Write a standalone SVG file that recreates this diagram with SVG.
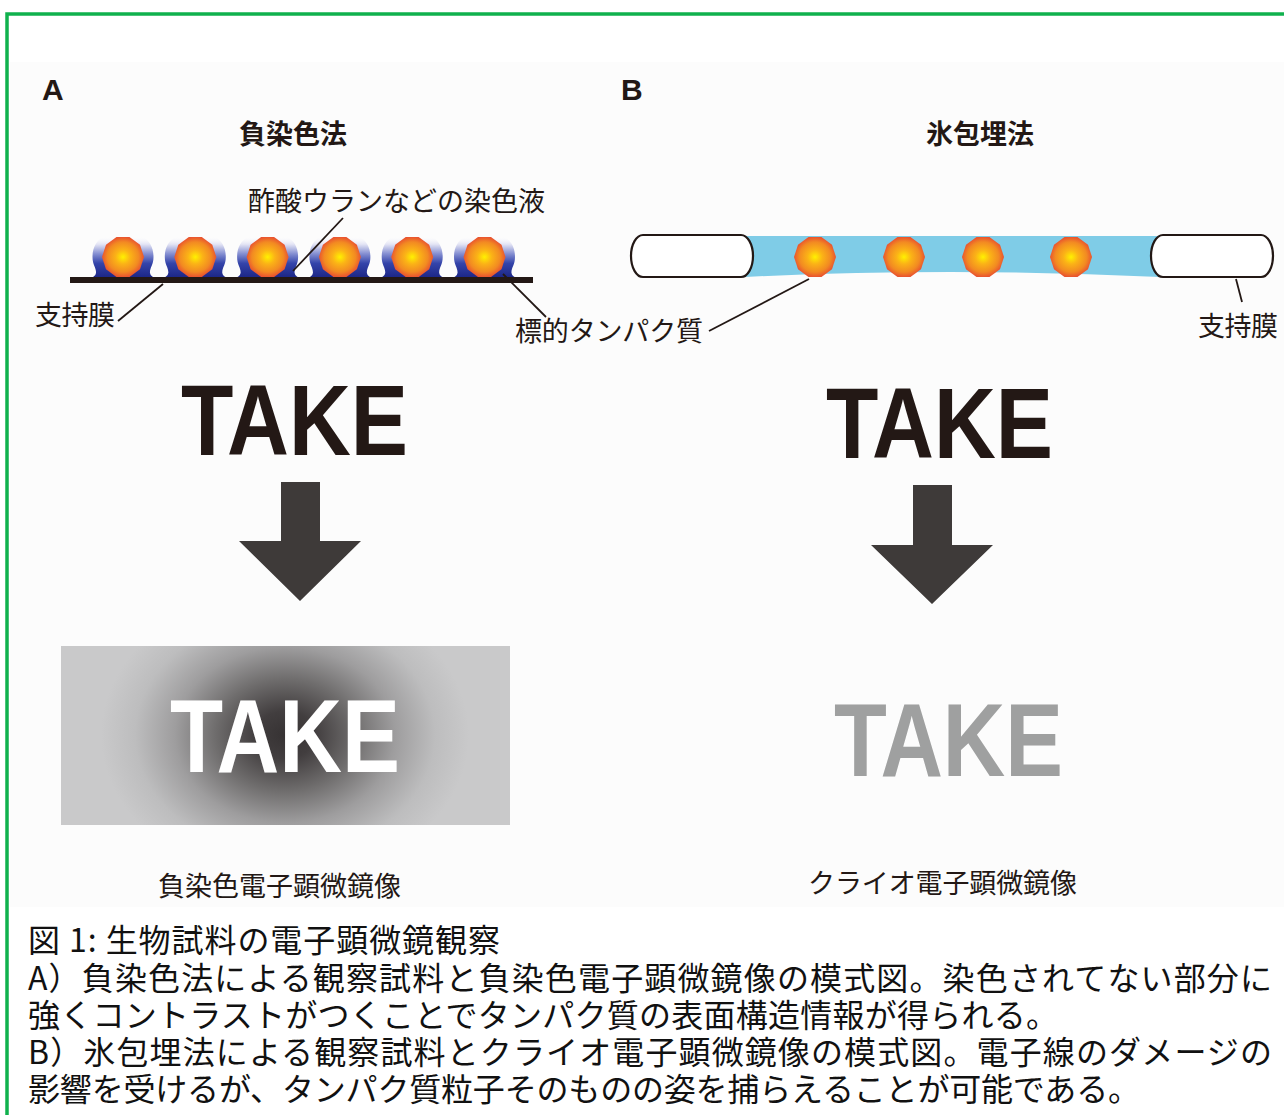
<svg xmlns="http://www.w3.org/2000/svg" xmlns:xlink="http://www.w3.org/1999/xlink" width="1284" height="1115" viewBox="0 0 1284 1115">
  <defs>
    <style>
      .jp { font-family: "Noto Sans CJK JP", "Noto Sans CJK SC", sans-serif; fill: #231815; }
      .lbl { font-size: 27px; font-weight: 400; }
      .ttl { font-size: 27px; font-weight: 700; }
      .cap { font-size: 32px; font-weight: 400; fill: #111; }
      .panel { font-family: "Liberation Sans", Arial, sans-serif; font-weight: 700; font-size: 30px; fill: #231815; }
      .take { font-family: "Liberation Sans", Arial, sans-serif; font-weight: 700; }
      .lead { stroke: #231815; stroke-width: 1.8; fill: none; }
      .arrow { fill: #3e3a39; }
      .grid { fill: #fff; stroke: #231815; stroke-width: 2.2; }
    </style>
    <!-- protein particle: yellow core fading to orange-red rim -->
    <radialGradient id="protein" cx="0.5" cy="0.5" r="0.5">
      <stop offset="0" stop-color="#fff100"/>
      <stop offset="0.35" stop-color="#fbb316"/>
      <stop offset="0.75" stop-color="#f28a22"/>
      <stop offset="1" stop-color="#e9542f"/>
    </radialGradient>
    <polygon id="particle" fill="url(#protein)" points="21,0 17,12.35 6.49,19.97 -6.49,19.97 -17,12.35 -21,0 -17,-12.35 -6.49,-19.97 6.49,-19.97 17,-12.35"/>
    <!-- uranyl acetate stain: dark navy at the film, fading upward -->
    <linearGradient id="stain" gradientUnits="userSpaceOnUse" x1="0" y1="236" x2="0" y2="278">
      <stop offset="0" stop-color="#ffffff" stop-opacity="0"/>
      <stop offset="0.2" stop-color="#e2e3f4"/>
      <stop offset="0.42" stop-color="#8690d2"/>
      <stop offset="0.65" stop-color="#3444aa"/>
      <stop offset="1" stop-color="#1b2585"/>
    </linearGradient>
    <!-- one stain mound around a particle centred at x=0 -->
    <path id="mound" fill="url(#stain)" d="M-36.2 278 Q-27.5 278 -27 273 C-26.5 268 -30.5 265 -30.5 257 C-30.5 248 -27 240 -18 236 L18 236 C27 240 30.5 248 30.5 257 C30.5 265 26.5 268 27 273 Q27.5 278 36.2 278 Z"/>
    <!-- blurred image contrast for negative stain -->
    <radialGradient id="haze" gradientUnits="userSpaceOnUse" cx="285" cy="735" r="200" gradientTransform="translate(285 735) scale(1 0.8) translate(-285 -735)">
      <stop offset="0" stop-color="#363233"/>
      <stop offset="0.15" stop-color="#423e3f"/>
      <stop offset="0.35" stop-color="#6f6d6d"/>
      <stop offset="0.55" stop-color="#9e9d9e"/>
      <stop offset="0.75" stop-color="#bdbdbe"/>
      <stop offset="0.92" stop-color="#c9c9ca"/>
    </radialGradient>
  </defs>

  <rect width="1284" height="1115" fill="#ffffff"/>
  <rect x="10" y="62" width="1274" height="845" fill="#fcfcfc"/>
  <!-- frame -->
  <path d="M7 1115 L7 14 L1284 14" fill="none" stroke="#10b14d" stroke-width="3.5"/>

  <!-- panel A: negative staining -->
  <g id="panelA">
    <text class="panel" x="42" y="100">A</text>
    <text class="jp ttl" x="293" y="144" text-anchor="middle">負染色法</text>
  </g>

  <g id="stainedSample">
    <use xlink:href="#mound" x="123" y="0"/>
    <use xlink:href="#mound" x="195.3" y="0"/>
    <use xlink:href="#mound" x="267.6" y="0"/>
    <use xlink:href="#mound" x="339.9" y="0"/>
    <use xlink:href="#mound" x="412.2" y="0"/>
    <use xlink:href="#mound" x="484.5" y="0"/>
    <use xlink:href="#particle" x="123" y="257"/>
    <use xlink:href="#particle" x="195.3" y="257"/>
    <use xlink:href="#particle" x="267.6" y="257"/>
    <use xlink:href="#particle" x="339.9" y="257"/>
    <use xlink:href="#particle" x="412.2" y="257"/>
    <use xlink:href="#particle" x="484.5" y="257"/>
    <!-- support film -->
    <rect x="70" y="277" width="463" height="6" fill="#231815"/>
  </g>

  <g id="labelsA">
    <text class="jp lbl" x="248" y="211" textLength="297">酢酸ウランなどの染色液</text>
    <text class="jp lbl" x="35" y="325" textLength="80">支持膜</text>
    <text class="jp lbl" x="515" y="341" textLength="188">標的タンパク質</text>
  </g>

  <!-- panel B: vitreous ice embedding -->
  <g id="panelB">
    <text class="panel" x="621" y="100">B</text>
    <text class="jp ttl" x="980" y="144" text-anchor="middle">氷包埋法</text>
  </g>

  <g id="iceSample">
    <path d="M745 236 L1160 236 L1160 277 Q950 267 745 277 Z" fill="#7fcce7"/>
    <rect class="grid" x="631" y="235" width="122" height="42" rx="12" ry="21"/>
    <rect class="grid" x="1151" y="235" width="122" height="42" rx="12" ry="21"/>
    <use xlink:href="#particle" x="815" y="257"/>
    <use xlink:href="#particle" x="904" y="257"/>
    <use xlink:href="#particle" x="983" y="257"/>
    <use xlink:href="#particle" x="1071" y="257"/>
  </g>

  <g id="labelsB">
    <text class="jp lbl" x="1198" y="336" textLength="80">支持膜</text>
  </g>

  <!-- leader lines -->
  <g id="connectors">
    <line class="lead" x1="343" y1="218" x2="293" y2="271"/>
    <line class="lead" x1="163" y1="284" x2="118" y2="321"/>
    <line class="lead" x1="503" y1="274" x2="546" y2="317"/>
    <line class="lead" x1="709" y1="331" x2="809" y2="279"/>
    <line class="lead" x1="1236" y1="279" x2="1242" y2="302"/>
    <polygon class="arrow" points="281,482 320,482 320,541 361,541 300,601 239,541 281,541"/>
    <polygon class="arrow" points="913,485 952,485 952,545 993,545 932,604 871,545 913,545"/>
  </g>

  <!-- specimen word -->
  <g id="specimenA">
    <text class="take" x="181" y="455" font-size="100" textLength="227" lengthAdjust="spacingAndGlyphs" fill="#231815">TAKE</text>
  </g>
  <g id="specimenB">
    <text class="take" x="826" y="458" font-size="100" textLength="227" lengthAdjust="spacingAndGlyphs" fill="#231815">TAKE</text>
  </g>

  <!-- resulting micrographs -->
  <g id="imageA">
    <rect x="61" y="646" width="449" height="179" fill="url(#haze)"/>
    <text class="take" x="170" y="772" font-size="103" textLength="230" lengthAdjust="spacingAndGlyphs" fill="#ffffff">TAKE</text>
    <text class="jp lbl" x="158" y="896" textLength="243">負染色電子顕微鏡像</text>
  </g>
  <g id="imageB">
    <text class="take" x="834" y="776" font-size="103" textLength="229" lengthAdjust="spacingAndGlyphs" fill="#9fa0a0">TAKE</text>
    <text class="jp lbl" x="808" y="893" textLength="269">クライオ電子顕微鏡像</text>
  </g>

  <!-- figure legend -->
  <g id="legend">
    <text class="jp cap" x="28" y="952" textLength="472">図 1: 生物試料の電子顕微鏡観察</text>
    <text class="jp cap" x="28" y="990" textLength="1244">A）負染色法による観察試料と負染色電子顕微鏡像の模式図。染色されてない部分に</text>
    <text class="jp cap" x="28" y="1027" textLength="1030">強くコントラストがつくことでタンパク質の表面構造情報が得られる。</text>
    <text class="jp cap" x="28" y="1064" textLength="1244">B）氷包埋法による観察試料とクライオ電子顕微鏡像の模式図。電子線のダメージの</text>
    <text class="jp cap" x="28" y="1101" textLength="1112">影響を受けるが、タンパク質粒子そのものの姿を捕らえることが可能である。</text>
  </g>
</svg>
